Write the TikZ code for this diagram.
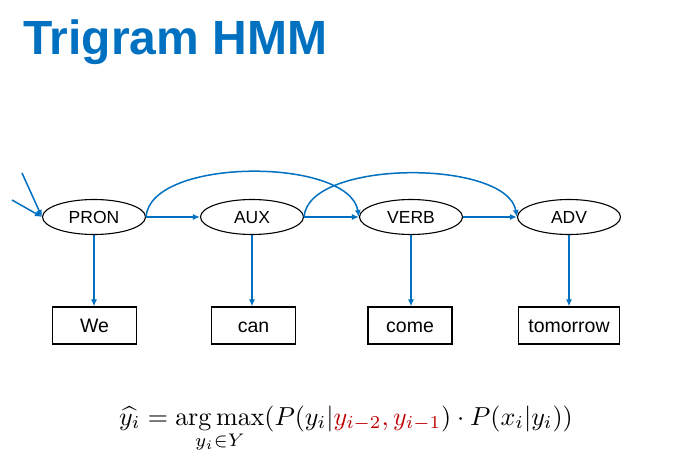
\documentclass[tikz,border=0pt]{standalone}
\usepackage{amsmath}
\usepackage[no-math]{fontspec}
\setmainfont{Liberation Sans}
\usetikzlibrary{shapes.geometric,arrows.meta}
\definecolor{hmmblue}{HTML}{0070C0}
\definecolor{hmmred}{HTML}{C00000}
\begin{document}
\begin{tikzpicture}[x=1pt,y=-1pt,
  state/.style={draw=black,line width=1.1pt,ellipse,minimum width=103pt,minimum height=35pt,inner sep=0pt,
    text height=12.5pt,text depth=0pt,font=\fontsize{17.5}{20}\selectfont},
  word/.style={draw=black,line width=1.1pt,rectangle,minimum width=84pt,minimum height=37pt,inner xsep=9.5pt,inner ysep=0pt,
    text height=14pt,text depth=0pt,font=\fontsize{19.5}{22}\selectfont},
  arr/.style={draw=hmmblue,line width=1.5pt,-{Latex[length=7pt,width=6pt]}}]
\useasboundingbox (0,0) rectangle (700,470);
\fill[white] (0,0) rectangle (700,470);

% title
\node[anchor=base west,inner sep=0pt,text=hmmblue,font=\fontsize{48}{52}\selectfont\bfseries] (title) at (23,55) {Trigram HMM};

% hidden states
\node[state] (pron) at (94,217) {PRON};
\node[state] (aux)  at (252,217) {AUX};
\node[state] (verb) at (411,217) {VERB};
\node[state] (adv)  at (569,217) {ADV};

% observed words
\node[word] (we)   at (94.5,325.5) {We};
\node[word] (can)  at (253.5,325.5) {can};
\node[word] (come) at (410,325.5) {come};
\node[word] (tom)  at (569,325.5) {tomorrow};

% start arrows
\coordinate (s1) at (22,173);
\coordinate (s2) at (12,200);
\draw[arr] (s1) -- (pron.west);
\draw[arr] (s2) -- (pron.west);

% bigram transitions
\draw[arr] (pron) -- (aux);
\draw[arr] (aux) -- (verb);
\draw[arr] (verb) -- (adv);

% trigram (skip) transitions
\draw[arr] (pron.east) .. controls +(4,-60) and +(-10,-60) .. (verb.west);
\draw[arr] (aux.east) .. controls +(4,-58) and +(-10,-58) .. (adv.west);

% emissions
\draw[arr] (pron.south) -- (pron.south |- we.north);
\draw[arr] (aux.south) -- (aux.south |- can.north);
\draw[arr] (verb.south) -- (verb.south |- come.north);
\draw[arr] (adv.south) -- (adv.south |- tom.north);

% decoding rule, set at 10pt and enlarged
\node[anchor=base,inner sep=0pt] (rule) at (346,425)
  {\scalebox{2.6}{$\displaystyle\widehat{y_i} = \operatorname*{arg\,max}_{y_i\in Y}(P(y_i|\textcolor{hmmred}{y_{i-2},y_{i-1}})\cdot P(x_i|y_i))$}};
\end{tikzpicture}
\end{document}
